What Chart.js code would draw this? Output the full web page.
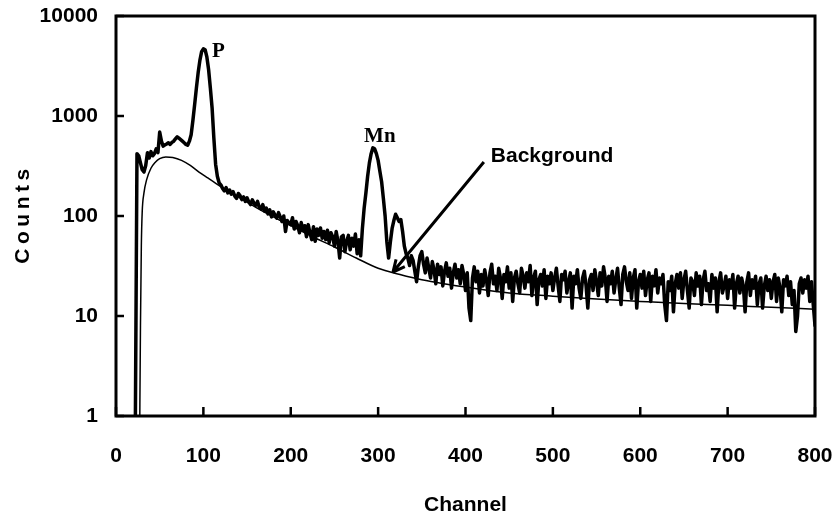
<!DOCTYPE html>
<html>
<head>
<meta charset="utf-8">
<script src="https://cdn.jsdelivr.net/npm/chart.js@4.4.1/dist/chart.umd.min.js"></script>
<style>
  html, body { margin: 0; padding: 0; background: #ffffff; }
  #wrap { position: relative; width: 835px; height: 520px; }
</style>
</head>
<body>
<div id="wrap"><canvas id="spectrum-chart"></canvas></div>
<script>
// spectrum: one value every 2 channels, starting at channel 20
const firstChannel = 20;
const channelStep = 2;
const spectrumCounts = [
  // 20 - 118
  0.5, 0.5, 420, 400, 340, 290, 275, 320, 430, 380, 440, 400, 420, 470, 430, 690, 560, 500, 515, 525,
  540, 520, 545, 560, 590, 620, 600, 580, 560, 540, 520, 510, 560, 650, 900, 1300, 1900, 2700, 3600, 4400,
  4700, 4600, 3900, 2900, 1900, 1200, 600, 330, 250, 215,
  // 120 - 278
  205, 188, 178, 192, 170, 182, 165, 175, 158, 150, 168, 160, 146, 155, 140, 152, 138, 130, 145, 134,
  128, 140, 122, 118, 130, 112, 120, 105, 115, 98, 110, 102, 95, 108, 98, 88, 100, 70, 90, 85,
  82, 96, 74, 88, 80, 68, 86, 72, 80, 62, 82, 68, 58, 78, 56, 74, 64, 76, 60, 70,
  58, 72, 54, 68, 62, 50, 70, 56, 38, 62, 64, 44, 56, 64, 46, 60, 50, 66, 42, 58,
  // 280 - 338 (Mn)
  40, 75, 120, 170, 250, 340, 420, 480, 470, 420, 360, 280, 220, 150, 100, 55, 38, 55, 75, 90,
  104, 96, 88, 92, 70, 50, 42, 38, 32, 40,
  // 340 - 800
  36, 28, 22, 31, 40, 44, 33, 27, 38, 30, 24, 35, 29, 21, 33, 26, 31, 20, 28, 34,
  25, 30, 19, 27, 33, 24, 29, 21, 32, 26, 18, 27, 12, 9, 24, 31, 22, 28, 17, 26,
  20, 29, 23, 16, 27, 33, 21, 25, 18, 30, 24, 15, 26, 22, 31, 19, 27, 14, 24, 28,
  21, 17, 30, 25, 19, 27, 22, 32, 16, 24, 28, 13, 23, 26, 20, 29, 15, 25, 21, 27,
  18, 24, 30, 20, 14, 26, 23, 28, 17, 22, 27, 12, 25, 21, 29, 19, 15, 24, 28, 20,
  12, 23, 26, 18, 29, 22, 16, 27, 20, 31, 24, 14, 25, 21, 28, 17, 23, 30, 19, 13,
  26, 31, 22, 18, 27, 15, 24, 29, 12, 22, 26, 19, 28, 16, 23, 27, 14, 25, 20, 29,
  17, 24, 21, 26, 13, 9, 22, 18, 25, 11, 21, 26, 19, 27, 15, 23, 28, 18, 12, 24,
  22, 16, 27, 20, 25, 13, 23, 28, 18, 21, 14, 26, 19, 24, 11, 22, 27, 17, 20, 25,
  15, 23, 19, 26, 12, 21, 25, 17, 24, 20, 11, 22, 27, 16, 23, 19, 25, 13, 21, 24,
  12, 20, 25, 18, 23, 15, 22, 26, 14, 24, 19, 11, 23, 20, 25, 16, 22, 13, 18, 7,
  10, 21, 24, 17, 23, 19, 25, 14, 22, 13, 8
];

// fitted background curve (channel, counts)
const backgroundChannels = [27, 28, 29, 30, 32, 35, 40, 45, 50, 57, 65, 75, 85, 95, 105, 115, 125, 140, 160, 180,
  200, 225, 250, 275, 300, 325, 350, 375, 400, 450, 500, 550, 600, 650, 700, 750, 800];
const backgroundCounts = [0.5, 8, 50, 110, 170, 230, 300, 345, 375, 390, 385, 360, 320, 275, 240, 210, 185, 155, 122, 98,
  80, 62, 49, 38, 30, 26, 23, 21, 19.5, 17, 15.8, 14.8, 14, 13.3, 12.8, 12.2, 11.7];

const xTicks = [0, 100, 200, 300, 400, 500, 600, 700, 800];
const yTicks = [1, 10, 100, 1000, 10000];

// peak labels in data coordinates
const peakLabels = ["P", "Mn"];
const peakLabelChannels = [110, 302];
const peakLabelCounts = [4400, 620];

const noteText = "Background";
const noteChannel = 429;
const noteCounts = 400;
const arrowFrom = [421, 347];
const arrowTo = [317, 27.5];

const SANS_FONT = "'Liberation Sans', Arial, sans-serif";

const frameAndNotesPlugin = {
  id: "frameAndNotes",
  afterDatasetsDraw(chart) {
    const { ctx, chartArea: area, scales } = chart;
    const xScale = scales.x;
    const yScale = scales.y;

    ctx.save();
    ctx.strokeStyle = "#000000";
    ctx.fillStyle = "#000000";
    ctx.lineWidth = 3;
    ctx.strokeRect(area.left, area.top, area.right - area.left, area.bottom - area.top);

    // ticks point into the plot
    ctx.lineWidth = 2.5;
    ctx.beginPath();
    xTicks.forEach((value) => {
      const px = xScale.getPixelForValue(value);
      ctx.moveTo(px, area.bottom);
      ctx.lineTo(px, area.bottom - 9);
    });
    yTicks.forEach((value) => {
      const py = yScale.getPixelForValue(value);
      ctx.moveTo(area.left, py);
      ctx.lineTo(area.left + 8, py);
    });
    ctx.stroke();

    ctx.font = "bold 21px 'Liberation Serif', 'Times New Roman', serif";
    ctx.textBaseline = "middle";
    peakLabels.forEach((label, index) => {
      ctx.textAlign = index === 0 ? "left" : "center";
      ctx.fillText(
        label,
        xScale.getPixelForValue(peakLabelChannels[index]),
        yScale.getPixelForValue(peakLabelCounts[index])
      );
    });

    ctx.font = `bold 21px ${SANS_FONT}`;
    ctx.textAlign = "left";
    ctx.fillText(noteText, xScale.getPixelForValue(noteChannel), yScale.getPixelForValue(noteCounts));

    const x1 = xScale.getPixelForValue(arrowFrom[0]);
    const y1 = yScale.getPixelForValue(arrowFrom[1]);
    const x2 = xScale.getPixelForValue(arrowTo[0]);
    const y2 = yScale.getPixelForValue(arrowTo[1]);
    const angle = Math.atan2(y2 - y1, x2 - x1);
    ctx.lineWidth = 3;
    ctx.beginPath();
    ctx.moveTo(x1, y1);
    ctx.lineTo(x2, y2);
    ctx.moveTo(x2, y2);
    ctx.lineTo(x2 - 13 * Math.cos(angle - 0.45), y2 - 13 * Math.sin(angle - 0.45));
    ctx.moveTo(x2, y2);
    ctx.lineTo(x2 - 13 * Math.cos(angle + 0.45), y2 - 13 * Math.sin(angle + 0.45));
    ctx.stroke();

    // y title with spaced letters
    ctx.translate(23, (area.top + area.bottom) / 2);
    ctx.rotate(-Math.PI / 2);
    ctx.font = `bold 21px ${SANS_FONT}`;
    ctx.letterSpacing = "4.5px";
    ctx.textAlign = "center";
    ctx.fillText("Counts", 2, 0);
    ctx.restore();
  }
};

const spectrumPoints = spectrumCounts.map((count, index) => ({ x: firstChannel + index * channelStep, y: count }));
const backgroundPoints = backgroundChannels.map((channel, index) => ({ x: channel, y: backgroundCounts[index] }));

new Chart(document.getElementById("spectrum-chart"), {
  type: "line",
  data: {
    datasets: [
      {
        label: "Spectrum",
        data: spectrumPoints,
        borderColor: "#000000",
        borderWidth: 3.5,
        pointRadius: 0,
        tension: 0,
        borderJoinStyle: "round",
        borderCapStyle: "round"
      },
      {
        label: "Background",
        data: backgroundPoints,
        borderColor: "#000000",
        borderWidth: 1.5,
        pointRadius: 0,
        cubicInterpolationMode: "monotone"
      }
    ]
  },
  options: {
    responsive: true,
    maintainAspectRatio: false,
    animation: false,
    layout: {
      padding: { top: 16, right: 20, left: 0, bottom: 0 }
    },
    plugins: {
      legend: { display: false },
      tooltip: { enabled: false }
    },
    scales: {
      x: {
        type: "linear",
        min: 0,
        max: 800,
        afterBuildTicks(scale) {
          scale.ticks = xTicks.map((value) => ({ value }));
        },
        afterFit(scale) {
          scale.height = 104;
        },
        // tick marks are drawn inside the frame by the plugin; tickLength only spaces the labels
        grid: { display: false, drawTicks: true, tickLength: 28 },
        border: { display: false },
        ticks: {
          color: "#000000",
          padding: 0,
          maxRotation: 0,
          font: { family: SANS_FONT, size: 21, weight: "bold" }
        },
        title: {
          display: true,
          text: "Channel",
          color: "#000000",
          padding: { top: 10, bottom: 2 },
          font: { family: SANS_FONT, size: 21, weight: "bold" }
        }
      },
      y: {
        type: "logarithmic",
        min: 1,
        max: 10000,
        afterBuildTicks(scale) {
          scale.ticks = yTicks.map((value) => ({ value }));
        },
        afterFit(scale) {
          scale.width = 116;
        },
        grid: { display: false, drawTicks: true, tickLength: 18 },
        border: { display: false },
        ticks: {
          color: "#000000",
          padding: 0,
          callback: (value) => String(value),
          font: { family: SANS_FONT, size: 21, weight: "bold" }
        }
      }
    }
  },
  plugins: [frameAndNotesPlugin]
});
</script>
</body>
</html>
